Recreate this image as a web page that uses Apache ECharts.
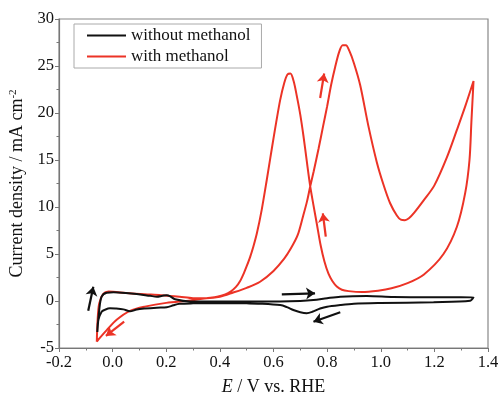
<!DOCTYPE html>
<html><head><meta charset="utf-8">
<script src="https://cdn.jsdelivr.net/npm/echarts@6/dist/echarts.min.js"></script>
<style>html,body{margin:0;padding:0;background:#fff}#c{width:503px;height:397px}</style>
</head><body><div id="c"></div>
<script>
// with methanol: potential (V) and current density (mA cm^-2), forward then reverse scan
const withMethanolE = [-0.059,-0.056,-0.05,-0.035,-0.015,0.05,0.12,0.18,0.25,0.3,0.35,0.4,0.45,0.5,0.55,0.6,0.64,0.665,0.69,0.71,0.725,0.737,0.75,0.768,0.785,0.8,0.815,0.83,0.845,0.858,0.87,0.883,0.9,0.923,0.954,0.985,1.01,1.035,1.06,1.075,1.09,1.105,1.125,1.16,1.2,1.247,1.284,1.315,1.346,
  1.338,1.331,1.315,1.284,1.234,1.16,1.1,1.04,0.99,0.93,0.88,0.855,0.836,0.82,0.805,0.79,0.776,0.761,0.749,0.737,0.724,0.712,0.7,0.687,0.675,0.663,0.652,0.64,0.625,0.61,0.6,0.588,0.575,0.556,0.538,0.525,0.513,0.5,0.49,0.475,0.46,0.44,0.42,0.39,0.35,0.29,0.2,0.12,0.065,0.015,-0.022,-0.047,-0.059];
const withMethanolJ = [-4.33,-2.0,-0.25,0.75,1.0,0.85,0.72,0.62,0.45,0.3,0.3,0.45,0.9,1.4,2.05,3.2,4.5,5.6,7.0,9.0,10.6,12.2,13.8,16.2,18.6,20.7,23.0,24.9,26.5,27.2,27.2,26.6,25.3,23.0,18.6,14.8,12.4,10.4,9.1,8.65,8.6,8.8,9.4,10.7,12.3,15.3,18.2,20.7,23.4,
  19.0,15.0,11.5,7.9,5.0,2.8,1.9,1.35,1.1,0.95,1.05,1.2,1.55,2.1,2.9,4.2,5.9,8.3,10.2,12.2,14.9,17.5,19.8,21.8,23.4,24.2,24.1,23.2,21.4,19.0,17.3,15.2,12.9,9.7,7.2,5.8,4.7,3.7,3.0,2.1,1.5,1.0,0.7,0.45,0.3,0.05,-0.2,-0.6,-1.05,-2.0,-3.1,-3.9,-4.33];
// without methanol
const withoutMethanolE = [-0.057,-0.05,-0.041,-0.022,0.003,0.05,0.09,0.14,0.165,0.185,0.202,0.215,0.233,0.289,0.4,0.5,0.625,0.7,0.749,0.8,0.849,0.948,1.047,1.197,1.3,1.346,
  1.334,1.197,0.998,0.9,0.849,0.8,0.774,0.745,0.724,0.7,0.674,0.65,0.625,0.55,0.5,0.4,0.3,0.25,0.227,0.202,0.165,0.12,0.09,0.065,0.04,0.01,-0.01,-0.03,-0.041,-0.053,-0.057];
const withoutMethanolJ = [-3.3,-0.96,0.46,0.88,0.92,0.85,0.74,0.55,0.46,0.55,0.62,0.5,0.18,-0.05,-0.05,-0.05,-0.05,0.0,0.1,0.3,0.46,0.53,0.42,0.39,0.4,0.39,
  0.03,-0.12,-0.22,-0.3,-0.43,-0.6,-0.8,-1.15,-1.3,-1.2,-0.96,-0.65,-0.43,-0.28,-0.25,-0.22,-0.25,-0.3,-0.45,-0.67,-0.71,-0.8,-0.9,-1.1,-0.89,-0.8,-0.78,-0.95,-1.14,-2.0,-3.3];
// scan-direction arrows [startE, startJ, endE, endJ]
const blackArrows = [[-0.091,-1.03,-0.072,1.52],[0.631,0.71,0.755,0.82],[0.849,-1.2,0.749,-2.2]];
const redArrows = [[0.043,-2.2,-0.025,-3.72],[0.774,21.6,0.789,24.2],[0.795,6.84,0.784,9.33]];
const xTicks = {min:-0.2,max:1.4,step:0.2};
const yTicks = {min:-5,max:30,step:5};

const zip = (a,b) => a.map((v,i)=>[v,b[i]]);
const arrowData = arr => arr.map(a=>({coords:[[a[0],a[1]],[a[2],a[3]]]}));
const RED = '#ec3326', BLK = '#111111';
const FONT = 'Liberation Serif';
const chart = echarts.init(document.getElementById('c'));
chart.setOption({
  animation:false,
  backgroundColor:'#fff',
  grid:{left:59,right:15,top:19,bottom:49,show:true,borderColor:'#888',borderWidth:1.2,containLabel:false,outerBoundsMode:'none'},
  legend:{
    orient:'vertical',left:74,top:24,
    data:['without methanol','with methanol'],
    icon:'rect',itemWidth:39,itemHeight:2,itemGap:4,
    borderColor:'#aaa',borderWidth:1,padding:[3,11,3,13],
    textStyle:{fontFamily:FONT,fontSize:17,color:'#111'}
  },
  xAxis:{type:'value',min:xTicks.min,max:xTicks.max,interval:xTicks.step,
    axisLine:{onZero:false,lineStyle:{color:'#777',width:1.2}},
    axisTick:{length:4,lineStyle:{color:'#777'}},
    minorTick:{show:true,splitNumber:2,length:2.5,lineStyle:{color:'#777'}},
    splitLine:{show:false},
    axisLabel:{fontFamily:FONT,fontSize:16.5,color:'#111',margin:6,formatter:v=>v.toFixed(1)},
    name:'{i|E} / V vs. RHE',nameLocation:'middle',nameGap:30,
    nameTextStyle:{fontFamily:FONT,fontSize:18,color:'#111',rich:{i:{fontFamily:FONT,fontStyle:'italic',fontSize:18,color:'#111'}}}
  },
  yAxis:{type:'value',min:yTicks.min,max:yTicks.max,interval:yTicks.step,
    axisLine:{onZero:false,lineStyle:{color:'#777',width:1.2}},
    axisTick:{length:4,lineStyle:{color:'#777'}},
    minorTick:{show:true,splitNumber:2,length:2.5,lineStyle:{color:'#777'}},
    splitLine:{show:false},
    axisLabel:{fontFamily:FONT,fontSize:16.5,color:'#111',margin:5},
    name:'Current density / mA cm{s|-2}',nameLocation:'middle',nameGap:28,nameRotate:90,
    nameTextStyle:{fontFamily:FONT,fontSize:18,color:'#111',rich:{s:{fontFamily:FONT,fontSize:11,color:'#111',verticalAlign:'top',padding:[0,0,9,0]}}}
  },
  series:[
    {name:'without methanol',type:'line',data:zip(withoutMethanolE,withoutMethanolJ),smooth:0.3,symbol:'none',
      lineStyle:{color:BLK,width:2},itemStyle:{color:BLK},z:3},
    {name:'with methanol',type:'line',data:zip(withMethanolE,withMethanolJ),smooth:0.3,symbol:'none',
      lineStyle:{color:RED,width:2},itemStyle:{color:RED},z:2},
    {type:'lines',coordinateSystem:'cartesian2d',data:arrowData(blackArrows),symbol:['none','arrow'],symbolSize:9,
      lineStyle:{color:BLK,width:2.2,opacity:1},z:4},
    {type:'lines',coordinateSystem:'cartesian2d',data:arrowData(redArrows),symbol:['none','arrow'],symbolSize:9,
      lineStyle:{color:RED,width:2.2,opacity:1},z:4}
  ]
});
</script></body></html>
